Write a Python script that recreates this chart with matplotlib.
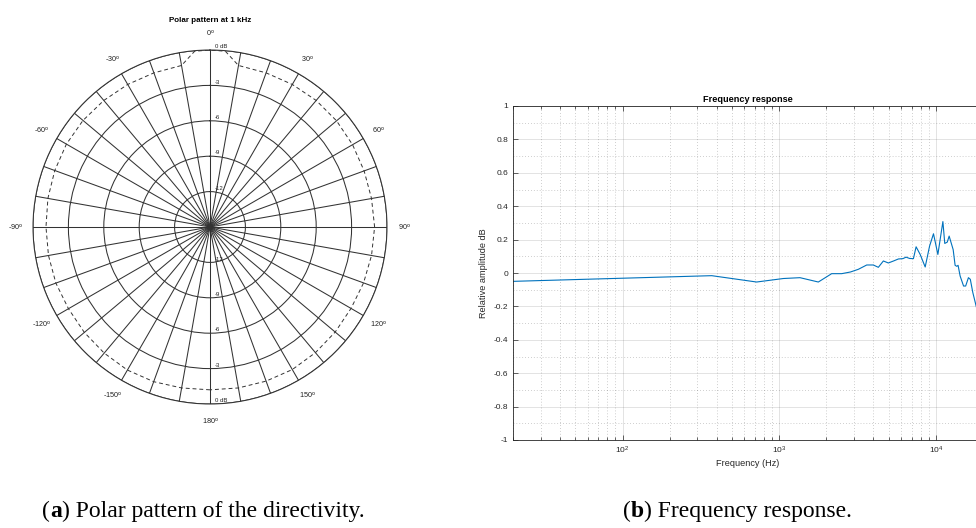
import numpy as np
import matplotlib
matplotlib.use('Agg')
import matplotlib.pyplot as plt
from matplotlib.text import Annotation
from matplotlib.ticker import MultipleLocator, FuncFormatter, NullFormatter, LogLocator

plt.rcParams['font.family'] = ['Liberation Sans', 'DejaVu Sans']
plt.rcParams['axes.unicode_minus'] = False

# --- polar pattern (dB, normalised) ---
patronAngulos = [-180, -170, -160, -150, -140, -130, -120, -110, -100, -90, -80, -70,
                 -60, -50, -40, -30, -20, -10, -5, 0, 5, 10, 20, 30, 40, 50, 60, 70,
                 80, 90, 100, 110, 120, 130, 140, 150, 160, 170, 180]
patronDB = [-1.2, -1.15, -1.05, -1.0, -1.05, -1.1, -1.15, -1.1, -1.1, -1.1, -1.05, -1.0,
            -0.95, -0.95, -1.0, -1.05, -1.1, -1.1, -0.05, 0.0, -0.05, -1.1, -1.1, -1.05,
            -1.0, -1.0, -1.05, -1.1, -1.1, -1.05, -1.1, -1.15, -1.2, -1.15, -1.1, -1.05,
            -1.1, -1.15, -1.2]
anillosDB = [-12, -9, -6, -3, 0]
etiquetasAngulo = [0, 30, 60, 90, 120, 150, 180, -150, -120, -90, -60, -30]

# --- frequency response ---
frecuencia = [20, 371, 718, 1064, 1358, 1778, 2163, 2505, 2850, 3199, 3622, 3990, 4295,
              4624, 4977, 5370, 5768, 6160, 6457, 6800, 7194, 7482, 7943, 8551, 9120,
              9661, 10304, 11092, 11402, 11830, 12162, 12900, 13274, 13600, 13868,
              14289, 15031, 15500, 16144, 16600, 17219, 18072, 20000]
amplitud = [-0.050, -0.016, -0.054, -0.033, -0.028, -0.054, -0.004, -0.004, 0.006, 0.022,
            0.048, 0.048, 0.034, 0.072, 0.060, 0.072, 0.084, 0.086, 0.095, 0.087, 0.086,
            0.157, 0.111, 0.036, 0.161, 0.235, 0.111, 0.308, 0.177, 0.185, 0.221, 0.140,
            0.046, 0.040, 0.046, -0.018, -0.078, -0.078, -0.028, -0.038, -0.117, -0.197,
            -0.350]

fig = plt.figure(figsize=(9.76, 5.28), dpi=100)

# Diagrama polar
colorRejilla = '#333333'
ax1 = fig.add_axes([33 / 976, 124 / 528, 354 / 976, 354 / 528], projection='polar')
ax1.set_theta_zero_location('N')
ax1.set_theta_direction(-1)
ax1.set_ylim(-15, 0)
ax1.set_yticks(anillosDB)
ax1.set_yticklabels([])
ax1.set_xticks(np.deg2rad(np.arange(0, 360, 10)))
ax1.set_xticklabels([])
ax1.grid(True, color=colorRejilla, lw=0.75, ls='-')
ax1.spines['polar'].set_color(colorRejilla)
ax1.spines['polar'].set_linewidth(0.75)
ax1.plot(np.deg2rad(patronAngulos), patronDB, color='#333333', lw=0.7, dashes=(4, 3))

for a in etiquetasAngulo:
    ax1.text(np.deg2rad(a), 1.45, str(a) + r'$^{\mathrm{o}}$', fontsize=5.2,
             ha='center', va='center', color='#222222')
for db in anillosDB:
    txt = '0 dB' if db == 0 else str(db)
    for th in (0, np.pi):
        ax1.annotate(txt, xy=(th, db), xytext=(3.5, 0.6), textcoords='offset points',
                     ha='left', va='bottom', fontsize=4.3, color='#222222')
ax1.set_title('Polar pattern at 1 kHz', fontsize=5.8, fontweight='bold', pad=20)

# Respuesta en frecuencia
colorEje = '#262626'
ax2 = fig.add_axes([513 / 976, 88 / 528, 470 / 976, 334 / 528])
ax2.semilogx(frecuencia, amplitud, color='#0072BD', lw=0.8)
ax2.set_xlim(20, 20000)
ax2.set_ylim(-1, 1)
ax2.yaxis.set_major_locator(MultipleLocator(0.2))
ax2.yaxis.set_minor_locator(MultipleLocator(0.1))
ax2.yaxis.set_major_formatter(FuncFormatter(lambda v, p: '%g' % round(v, 2)))
ax2.xaxis.set_major_locator(LogLocator(base=10))
ax2.xaxis.set_minor_locator(LogLocator(base=10, subs=np.arange(2, 10)))
ax2.xaxis.set_minor_formatter(NullFormatter())
ax2.grid(which='major', color=colorEje, alpha=0.15, lw=0.6)
ax2.grid(which='minor', color=colorEje, alpha=0.3, lw=0.6, ls=(0, (1, 2.5)))
ax2.tick_params(which='both', direction='in', top=True, right=True, colors=colorEje,
                labelsize=6, width=0.5)
ax2.tick_params(which='major', length=3.5)
ax2.tick_params(axis='x', which='minor', length=2)
ax2.tick_params(axis='y', which='minor', length=0)
for s in ax2.spines.values():
    s.set_color(colorEje)
    s.set_linewidth(0.6)
ax2.set_xlabel('Frequency (Hz)', fontsize=6.6, color=colorEje, labelpad=2)
ax2.set_ylabel('Relative amplitude dB', fontsize=6.6, color=colorEje, labelpad=4)
ax2.set_title('Frequency response', fontsize=6.6, fontweight='bold', pad=3)

# Pies de figura: "(", letra en negrita y resto del texto encadenados
fuenteCaption = dict(family='Liberation Serif', fontsize=17, color='black')
for x0, letra, texto in [(42, 'a', ') Polar pattern of the directivity.'),
                         (623, 'b', ') Frequency response.')]:
    t1 = fig.text(x0 / 976, 11 / 528, '(', va='baseline', **fuenteCaption)
    t2 = fig.add_artist(Annotation(letra, xy=(1, 0), xycoords=t1, va='bottom',
                                   ha='left', fontweight='bold', **fuenteCaption))
    fig.add_artist(Annotation(texto, xy=(1, 0), xycoords=t2, va='bottom', ha='left',
                              **fuenteCaption))

fig.savefig('out.png', dpi=100)
